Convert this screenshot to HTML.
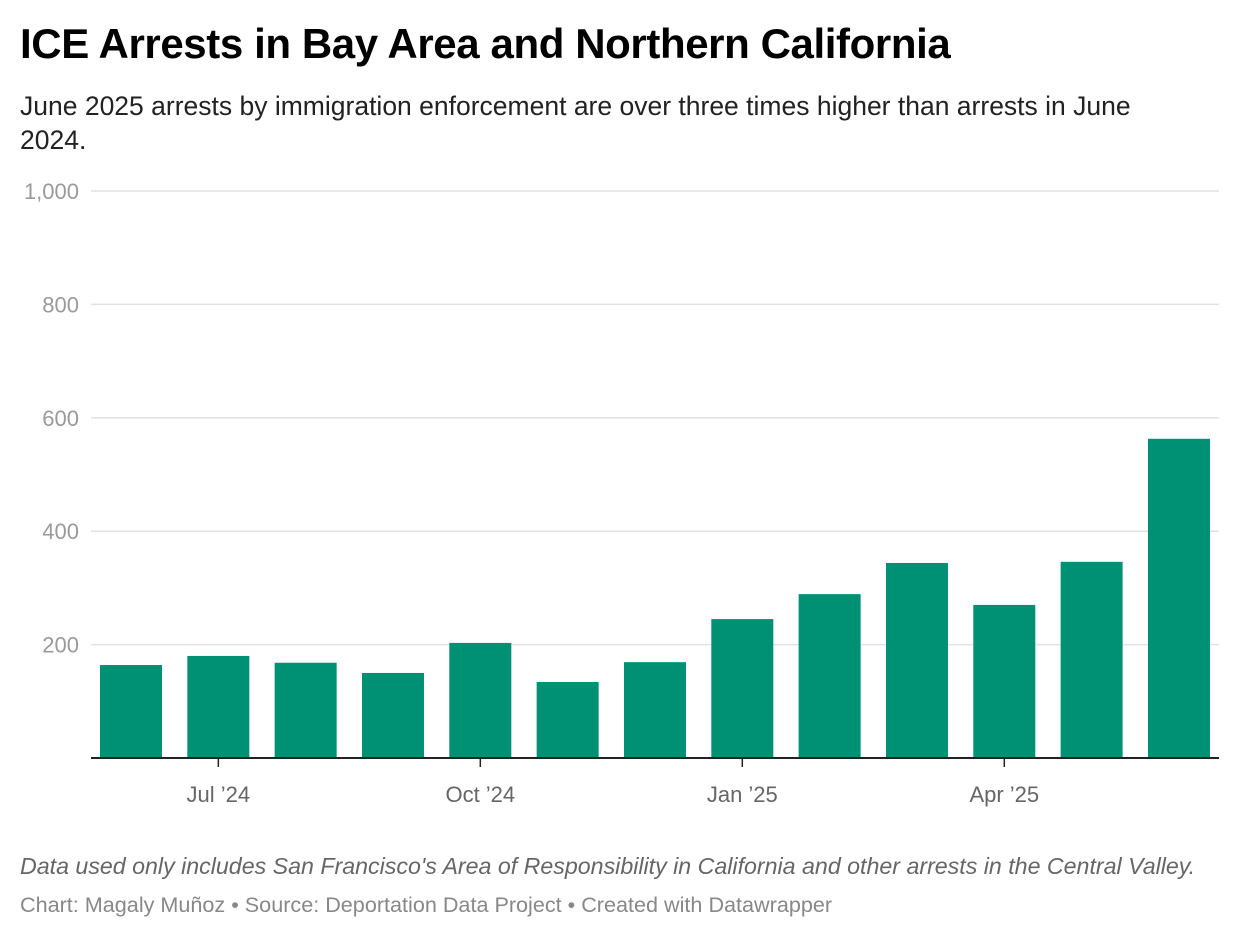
<!DOCTYPE html>
<html><head><meta charset="utf-8"><style>
body{margin:0;background:#fff;width:1240px;height:938px;overflow:hidden;font-family:"Liberation Sans",sans-serif;}
#title{position:absolute;left:20px;top:20px;font-size:42px;font-weight:bold;color:#000;letter-spacing:-0.4px}
#sub{position:absolute;left:20px;top:89px;font-size:26.5px;color:#222;line-height:34px;width:1170px}
#note{position:absolute;left:20px;top:853px;font-size:23.2px;font-style:italic;color:#666}
#cred{position:absolute;left:20px;top:892px;font-size:21.6px;color:#888}
svg{position:absolute;left:0;top:0}
</style></head><body>
<div id="title">ICE Arrests in Bay Area and Northern California</div>
<div id="sub">June 2025 arrests by immigration enforcement are over three times higher than arrests in June 2024.</div>
<svg id="chart" width="1240" height="938"></svg>
<div id="note">Data used only includes San Francisco's Area of Responsibility in California and other arrests in the Central Valley.</div>
<div id="cred">Chart: Magaly Muñoz • Source: Deportation Data Project • Created with Datawrapper</div>
<script>
const months=["Jun 24","Jul 24","Aug 24","Sep 24","Oct 24","Nov 24","Dec 24","Jan 25","Feb 25","Mar 25","Apr 25","May 25","Jun 25"];
const arrests=[164,180,168,150,203,134,169,245,289,344,270,346,563];
const yTicks=[200,400,600,800,1000];
const xTickIdx=[1,4,7,10];
const xTickLabels=["Jul ’24","Oct ’24","Jan ’25","Apr ’25"];
const NS="http://www.w3.org/2000/svg";
const svg=document.getElementById('chart');
const y=v=>758-v*0.567;
const x=i=>131+i*87.33;
const bw=62;
function mk(t,a){const e=document.createElementNS(NS,t);for(const k in a)e.setAttribute(k,a[k]);svg.appendChild(e);return e;}
yTicks.forEach(t=>{
 const l=mk('line',{x1:91,x2:1219,y1:y(t),y2:y(t),stroke:'#e2e2e2','stroke-width':1.5});
 
 
 const tx=mk('text',{x:79,y:y(t)+8,'text-anchor':'end','font-size':22,fill:'#9a9a9a','font-family':'Liberation Sans, sans-serif'});
 tx.textContent=t.toLocaleString('en-US');
 
 
});
arrests.forEach((v,i)=>{
 const r=mk('rect',{x:x(i)-bw/2,y:y(v),width:bw,height:758-y(v),fill:'#009175'});
 
 
});
const ax=mk('line',{x1:91,x2:1219,y1:758,y2:758,stroke:'#222','stroke-width':2});


xTickIdx.forEach((idx,k)=>{
 const t=mk('line',{x1:x(idx),x2:x(idx),y1:758,y2:767,stroke:'#222','stroke-width':1.5});
 
 
 const tx=mk('text',{x:x(idx),y:802,'text-anchor':'middle','font-size':22,fill:'#666','font-family':'Liberation Sans, sans-serif'});
 tx.textContent=xTickLabels[k];
 
 
});
</script>
</body></html>
